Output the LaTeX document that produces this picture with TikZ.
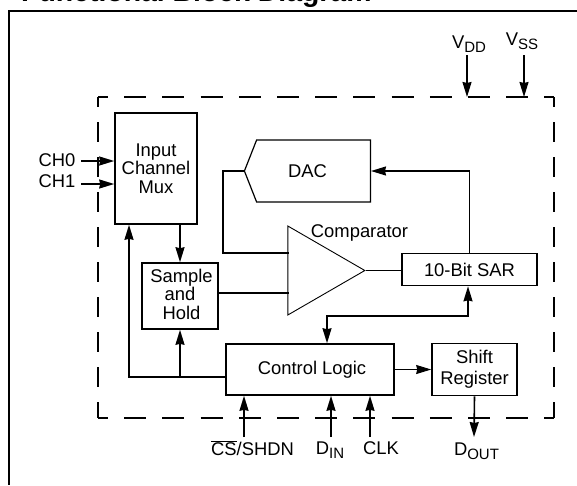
\documentclass[tikz,border=0pt]{standalone}
\usepackage{fontspec}
\setmainfont{Liberation Sans}
\usetikzlibrary{shapes.geometric, shapes.symbols, arrows.meta, calc}
\newcommand{\labelsize}{\fontsize{18.4}{18.6}\selectfont}
\newcommand{\subtext}[1]{\raisebox{-4pt}{\fontsize{15}{15}\selectfont #1}}
\tikzstyle{block} = [rectangle, draw=black, line width=1.6pt, align=center, inner sep=0pt, font=\labelsize]
\tikzstyle{dacbox} = [signal, signal to=west, signal pointer angle=137, draw=black, line width=1.2pt, inner sep=0pt, font=\labelsize]
\tikzstyle{amp} = [isosceles triangle, isosceles triangle stretches, draw=black, line width=0.9pt, inner sep=0pt]
\tikzstyle{pinlabel} = [font=\labelsize, inner sep=0pt]
\tikzstyle{arrow} = [line width=1.6pt,->,>={Stealth[length=15pt,width=9pt,inset=1pt]}]
\tikzstyle{wire} = [line width=1.6pt]
\tikzstyle{hdash} = [line width=1.6pt, dash pattern=on 22pt off 16.2pt, dash phase=12pt]
\tikzstyle{vdash} = [line width=1.6pt, dash pattern=on 20pt off 15pt, dash phase=10pt]

\begin{document}
\begin{tikzpicture}[x=1pt,y=-1pt,node distance=100pt]
\useasboundingbox (0,0) rectangle (577,485);
\node (title) [anchor=base west, inner sep=0pt, font=\fontsize{28.4}{28}\selectfont\bfseries] at (21,1.5) {Functional Block Diagram};

% outer frame
\coordinate (frametop) at (577,11);
\coordinate (framecorner) at (9,11);
\coordinate (framebottom) at (9,485);
\draw [line width=2pt] (frametop) -- (framecorner) -- (framebottom);

% dashed outline of the chip
\coordinate (chipnw) at (98,97);
\coordinate (chipne) at (554,97);
\coordinate (chipsw) at (98,418);
\coordinate (chipse) at (554,418);
\draw [hdash] (chipnw) -- (chipne);
\draw [hdash] (chipsw) -- (chipse);
\draw [vdash] (chipnw) -- (chipsw);
\draw [vdash] (chipne) -- (chipse);

\node (mux) [block, minimum width=82pt, minimum height=111pt] at (156,168.5) {Input\\Channel\\Mux};
\node (sample) [block, below of=mux, xshift=24pt, yshift=-27.5pt, minimum width=76pt, minimum height=66pt] {\hspace*{3pt}Sample\\and\\\hspace*{3pt}Hold\rule[-4pt]{0pt}{1pt}};
\node (control) [block, right of=sample, xshift=30pt, yshift=-73.5pt, minimum width=168pt, minimum height=51pt] {\hspace*{4pt}Control Logic};
\node (shift) [block, right of=control, xshift=64.5pt, minimum width=85pt, minimum height=52pt] {Shift\\[2pt]Register};
\node (sar) [block, above of=shift, xshift=-5pt, minimum width=135pt, minimum height=32pt] {10-Bit SAR};
\node (dac) [dacbox, anchor=east, minimum width=126pt, minimum height=62pt] at (371,171) {DAC\kern12pt};
\node (comp) [amp, anchor=apex, minimum width=89pt, minimum height=77pt] at (366,270.5) {};
\node (comptext) [pinlabel, anchor=base] at (359.5,237) {Comparator};

\node (ch0) [pinlabel] at (57,160) {CH0};
\node (ch1) [pinlabel, below of=ch0, yshift=79pt] {CH1};
\node (vdd) [pinlabel, anchor=base] at (469,48) {V\subtext{DD}};
\node (vss) [pinlabel, anchor=base] at (522,45) {V\subtext{SS}};
\node (cs) [pinlabel, anchor=base] at (252.5,455) {$\overline{\hbox{CS}}$/SHDN};
\node (din) [pinlabel, anchor=base] at (330,454) {D\subtext{IN}};
\node (clk) [pinlabel, anchor=base] at (381,454) {CLK};
\node (dout) [pinlabel, anchor=base] at (476.5,455) {D\subtext{OUT}};

% free ends of the wires
\coordinate (ch0end) at (81,161);
\coordinate (ch1end) at (81,184);
\coordinate (vddend) at (467,55);
\coordinate (vssend) at (524,55);
\coordinate (csend) at (244,437);
\coordinate (dinend) at (331,437);
\coordinate (clkend) at (370,437);
\coordinate (doutend) at (474,437);
\coordinate (dacleft) at (223,171);
\coordinate (compin1) at (289,253);
\coordinate (compin2) at (289,293);
\coordinate (ctrlleft) at (226,377);
\coordinate (muxback) at (129,377);
\coordinate (branch) at (180,377);
\coordinate (busleft) at (327,316);
\coordinate (busright) at (468,316);

\draw [arrow] (ch0end) -- (ch0end -| mux.west);
\draw [arrow] (ch1end) -- (ch1end -| mux.west);
\draw [arrow] (vddend) -- (vddend |- chipnw);
\draw [arrow] (vssend) -- (vssend |- chipnw);
\draw [arrow] (mux.south -| sample.north) -- (sample.north);
\draw [arrow] (ctrlleft) -- (muxback) -- (muxback |- mux.south);
\draw [arrow] (branch) -- (sample.south);
\draw [wire] (dac.west) -- (dacleft) |- (compin1);
\draw [wire] (sample.east |- compin2) -- (compin2);
\draw [wire] (comp.apex) -- (comp.apex -| sar.west);
\draw [arrow] (sar.north) -- (sar.north |- dac.east) -- (dac.east);
\draw [arrow, <->] (busright |- sar.south) -- (busright) -- (busleft) -- (busleft |- control.north);
\draw [arrow, line width=1pt] (control.east) -- (shift.west |- control.east);
\draw [arrow] (shift.south) -- (doutend);
\draw [arrow] (csend) -- (csend |- control.south);
\draw [arrow] (dinend) -- (dinend |- control.south);
\draw [arrow] (clkend) -- (clkend |- control.south);
\end{tikzpicture}
\end{document}
